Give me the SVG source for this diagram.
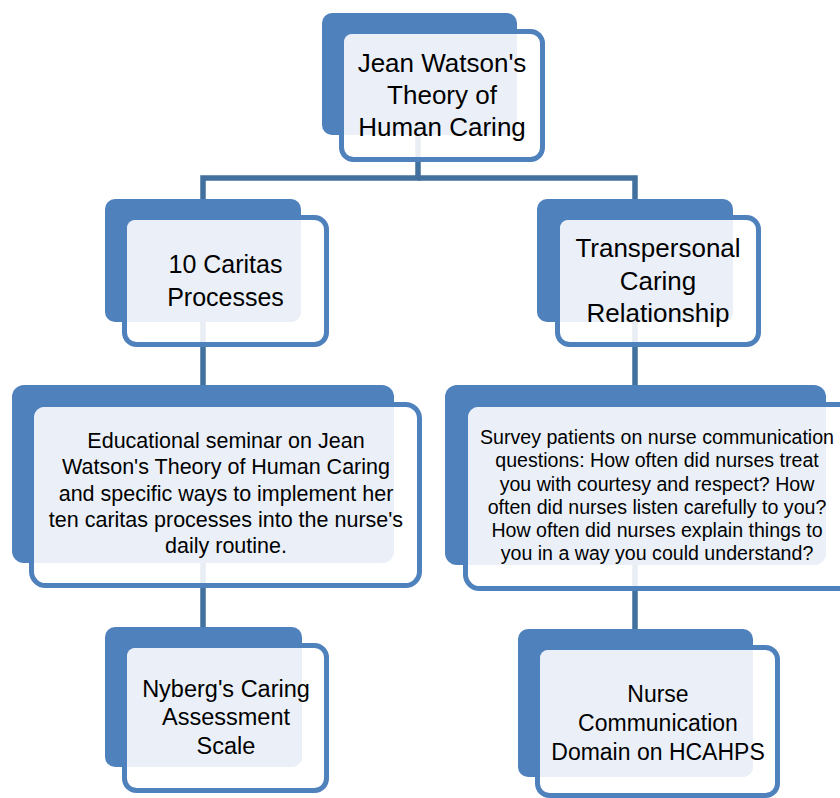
<svg xmlns="http://www.w3.org/2000/svg" width="840" height="798" viewBox="0 0 840 798">
<style>
.bg{fill:#ffffff}
.back{fill:#4F81BD}
.front{fill:#ffffff;fill-opacity:0.88;stroke:#4F81BD;stroke-width:5}
.light{fill:#EBF0F8}
.conn{fill:none;stroke:#41719C;stroke-width:5.5;stroke-linejoin:miter}
text{font-family:"Liberation Sans",Arial,sans-serif;fill:#000000;text-anchor:middle}
</style>
<rect class="bg" x="0" y="0" width="840" height="798"/>
<g id="connectors">
<path class="conn" d="M418,135 V178 H203 V199"/>
<path class="conn" d="M418,178 H635 V199"/>
<path class="conn" d="M203,322 V385"/>
<path class="conn" d="M635,322 V385"/>
<path class="conn" d="M203,563 V627"/>
<path class="conn" d="M635,565 V629"/>
</g>
<g id="n1">
<rect class="back" x="322" y="13" width="195" height="122" rx="10"/>
<rect class="front" x="341.5" y="31.5" width="201" height="128" rx="12"/>
<path class="light" d="M344,42 A8,8 0 0 1 352,34 H517 V125 A10,10 0 0 1 507,135 H344 Z"/>
<text font-size="26"><tspan x="442" y="72">Jean Watson's</tspan><tspan x="442" y="104">Theory of</tspan><tspan x="442" y="136">Human Caring</tspan></text>
</g>
<g id="n2">
<rect class="back" x="105" y="199" width="196" height="123" rx="10"/>
<rect class="front" x="124.5" y="217.5" width="202" height="127" rx="12"/>
<path class="light" d="M127,228 A8,8 0 0 1 135,220 H301 V312 A10,10 0 0 1 291,322 H127 Z"/>
<text font-size="25"><tspan x="225.5" y="273">10 Caritas</tspan><tspan x="225.5" y="306">Processes</tspan></text>
</g>
<g id="n3">
<rect class="back" x="537" y="199" width="196" height="123" rx="10"/>
<rect class="front" x="557.5" y="217.5" width="201" height="127" rx="12"/>
<path class="light" d="M560,228 A8,8 0 0 1 568,220 H733 V312 A10,10 0 0 1 723,322 H560 Z"/>
<text font-size="26"><tspan x="658" y="257">Transpersonal</tspan><tspan x="658" y="290">Caring</tspan><tspan x="658" y="322">Relationship</tspan></text>
</g>
<g id="n4">
<rect class="back" x="12" y="385" width="382" height="178" rx="12"/>
<rect class="front" x="31.5" y="404.5" width="388" height="181" rx="14"/>
<path class="light" d="M34,417 A10,10 0 0 1 44,407 H394 V551 A12,12 0 0 1 382,563 H34 Z"/>
<text font-size="21.5"><tspan x="226" y="448">Educational seminar on Jean</tspan><tspan x="226" y="474">Watson's Theory of Human Caring</tspan><tspan x="226" y="501">and specific ways to implement her</tspan><tspan x="226" y="527">ten caritas processes into the nurse's</tspan><tspan x="226" y="553">daily routine.</tspan></text>
</g>
<g id="n5">
<rect class="back" x="445" y="385" width="381" height="180" rx="12"/>
<rect class="front" x="465.5" y="404.5" width="388" height="184" rx="14"/>
<path class="light" d="M468,417 A10,10 0 0 1 478,407 H826 V553 A12,12 0 0 1 814,565 H468 Z"/>
<text font-size="19.6"><tspan x="657" y="444">Survey patients on nurse communication</tspan><tspan x="657" y="467">questions: How often did nurses treat</tspan><tspan x="657" y="491">you with courtesy and respect? How</tspan><tspan x="657" y="514">often did nurses listen carefully to you?</tspan><tspan x="657" y="537">How often did nurses explain things to</tspan><tspan x="657" y="560">you in a way you could understand?</tspan></text>
</g>
<g id="n6">
<rect class="back" x="105" y="627" width="197" height="140" rx="10"/>
<rect class="front" x="124.5" y="645.5" width="202" height="145" rx="12"/>
<path class="light" d="M127,656 A8,8 0 0 1 135,648 H302 V757 A10,10 0 0 1 292,767 H127 Z"/>
<text font-size="23.5"><tspan x="226" y="697">Nyberg's Caring</tspan><tspan x="226" y="725">Assessment</tspan><tspan x="226" y="754">Scale</tspan></text>
</g>
<g id="n7">
<rect class="back" x="518" y="629" width="235" height="148" rx="10"/>
<rect class="front" x="537.5" y="647.5" width="240" height="148" rx="12"/>
<path class="light" d="M540,658 A8,8 0 0 1 548,650 H753 V767 A10,10 0 0 1 743,777 H540 Z"/>
<text font-size="23"><tspan x="658" y="702">Nurse</tspan><tspan x="658" y="731">Communication</tspan><tspan x="658" y="760">Domain on HCAHPS</tspan></text>
</g>
</svg>
